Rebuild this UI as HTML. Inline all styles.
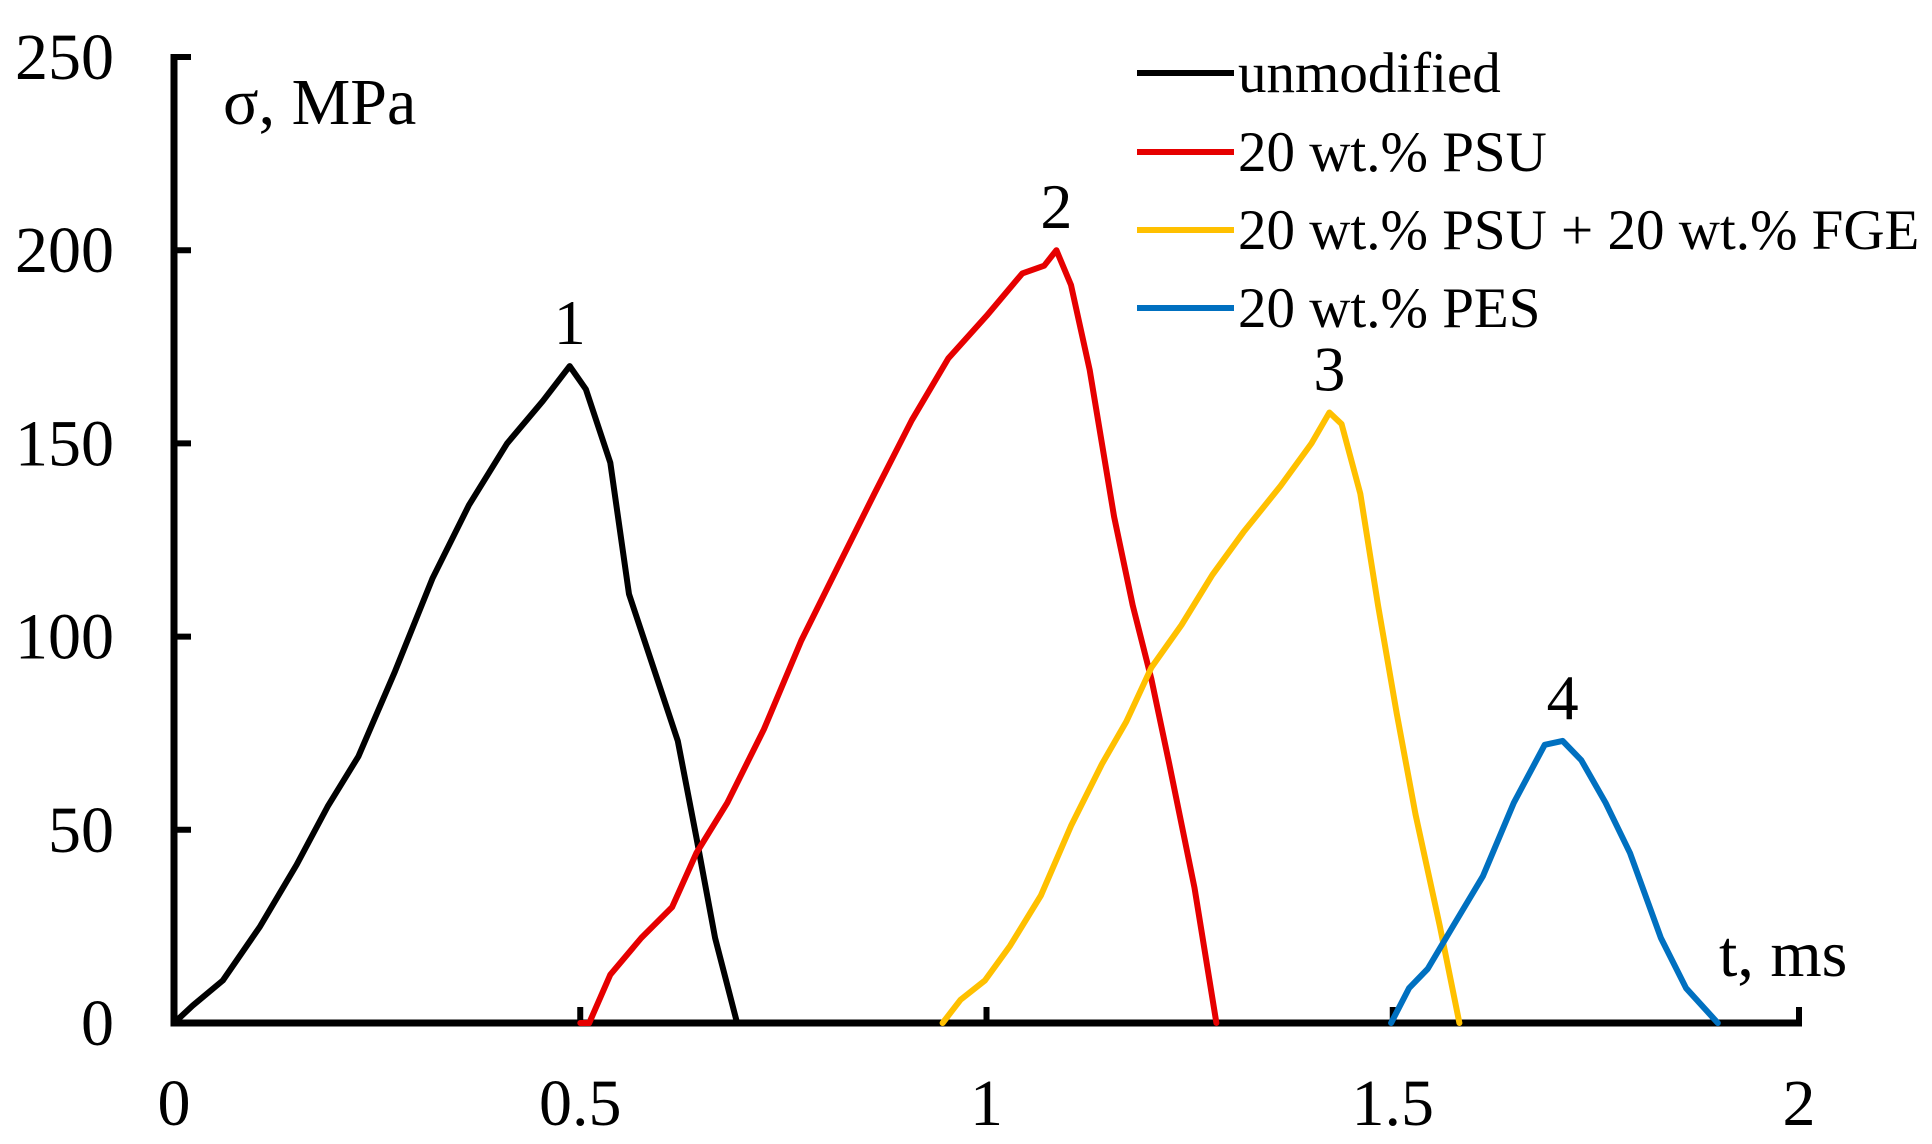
<!DOCTYPE html>
<html><head><meta charset="utf-8"><style>
html,body{margin:0;padding:0;background:#fff;}
svg{display:block;font-family:"Liberation Serif",serif;}
</style></head><body>
<svg id="chart" width="1932" height="1144" viewBox="0 0 1932 1144" xmlns="http://www.w3.org/2000/svg">
<g id="axes"></g>
<g id="series"></g>
<text x="223" y="124" font-size="66">σ, MPa</text>
<text x="1719" y="976" font-size="66">t, ms</text>
<g id="legend"></g>
</svg>
<script>
const yTicks = [0, 50, 100, 150, 200, 250];
const xTicks = [0, 0.5, 1, 1.5, 2];
const xTickLabels = ["0", "0.5", "1", "1.5", "2"];
const seriesNames = ["unmodified", "20 wt.% PSU", "20 wt.% PSU + 20 wt.% FGE", "20 wt.% PES"];
const seriesColors = ["#000000", "#e60000", "#ffc000", "#0070c0"];
const peakLabels = ["1", "2", "3", "4"];
const t1 = [0,0.023,0.06,0.106,0.151,0.189,0.227,0.272,0.318,0.363,0.41,0.454,0.487,0.507,0.537,0.56,0.59,0.62,0.643,0.666,0.693];
const s1 = [0,4.5,11,25,41,56,69,91,115,134,150,161,170,164,145,111,92,73,48,22,0];
const t2 = [0.5,0.511,0.537,0.575,0.613,0.643,0.681,0.726,0.772,0.817,0.862,0.908,0.953,1.0,1.044,1.071,1.086,1.104,1.127,1.157,1.18,1.203,1.225,1.256,1.283];
const s2 = [0,0,12.5,22,30,44,57,76,99,118,137,156,172,183,194,196,200,191,169,131,108,89,67,35,0];
const t3 = [0.946,0.968,0.998,1.029,1.067,1.104,1.142,1.172,1.203,1.24,1.278,1.316,1.362,1.4,1.422,1.437,1.46,1.482,1.505,1.528,1.558,1.582];
const s3 = [0,6,11,20,33,51,67,78,92,103,116,127,139,150,158,155,137,108,80,54,25,0];
const t4 = [1.498,1.52,1.543,1.574,1.611,1.649,1.687,1.709,1.732,1.762,1.792,1.83,1.861,1.9];
const s4 = [0,9,14,25,38,57,72,73,68,57,44,22,9,0];

const NS = "http://www.w3.org/2000/svg";
const X0 = 174, X1 = 1799, Y0 = 1023, Y1 = 57;
function xs(t){ return X0 + (t - 0) / 2 * (X1 - X0); }
function ys(v){ return Y0 - v / 250 * (Y0 - Y1); }
function mk(tag, attrs, parent){ const e = document.createElementNS(NS, tag); for (const k in attrs) e.setAttribute(k, attrs[k]); parent.appendChild(e); return e; }

const axes = document.getElementById('axes');
let e = mk('line', {x1:X0, y1:Y1-3, x2:X0, y2:Y0+3.5, stroke:'#000', 'stroke-width':7}, axes);


e = mk('line', {x1:X0-3.5, y1:Y0, x2:X1+3, y2:Y0, stroke:'#000', 'stroke-width':7}, axes);


yTicks.forEach(v => {
  const y = ys(v);
  const tk = mk('line', {x1:X0, y1:y, x2:X0+17, y2:y, stroke:'#000', 'stroke-width':6}, axes);
  
  
  const lb = mk('text', {x:114, y:y+22, 'font-size':66, 'text-anchor':'end'}, axes);
  lb.textContent = String(v);
  
  
});
xTicks.forEach((t, i) => {
  const x = xs(t);
  if (i > 0) {
    const tk = mk('line', {x1:x, y1:Y0, x2:x, y2:Y0-16, stroke:'#000', 'stroke-width':6}, axes);
    
    
  }
  const lb = mk('text', {x:x, y:1125, 'font-size':66, 'text-anchor':'middle'}, axes);
  lb.textContent = xTickLabels[i];
  
  
});

const series = document.getElementById('series');
const allT = [t1, t2, t3, t4], allS = [s1, s2, s3, s4];
allT.forEach((ts, i) => {
  const d = ts.map((t, j) => (j ? 'L' : 'M') + xs(t).toFixed(1) + ',' + ys(allS[i][j]).toFixed(1)).join(' ');
  const p = mk('path', {d:d, fill:'none', stroke:seriesColors[i], 'stroke-width':6, 'stroke-linejoin':'round', 'stroke-linecap':'round'}, series);
  
  
  let k = 0; allS[i].forEach((v, j) => { if (v > allS[i][k]) k = j; });
  const lb = mk('text', {x:xs(ts[k]), y:ys(allS[i][k]) - 22, 'font-size':64, 'text-anchor':'middle'}, series);
  lb.textContent = peakLabels[i];
  
  
});

const legend = document.getElementById('legend');
const legY = [73, 152, 230, 308];
seriesNames.forEach((n, i) => {
  const ln = mk('line', {x1:1137, y1:legY[i], x2:1234, y2:legY[i], stroke:seriesColors[i], 'stroke-width':6}, legend);
  
  
  const tx = mk('text', {x:1238, y:legY[i] + 19, 'font-size':57}, legend);
  tx.textContent = n;
  
  
});
</script>
</body></html>
